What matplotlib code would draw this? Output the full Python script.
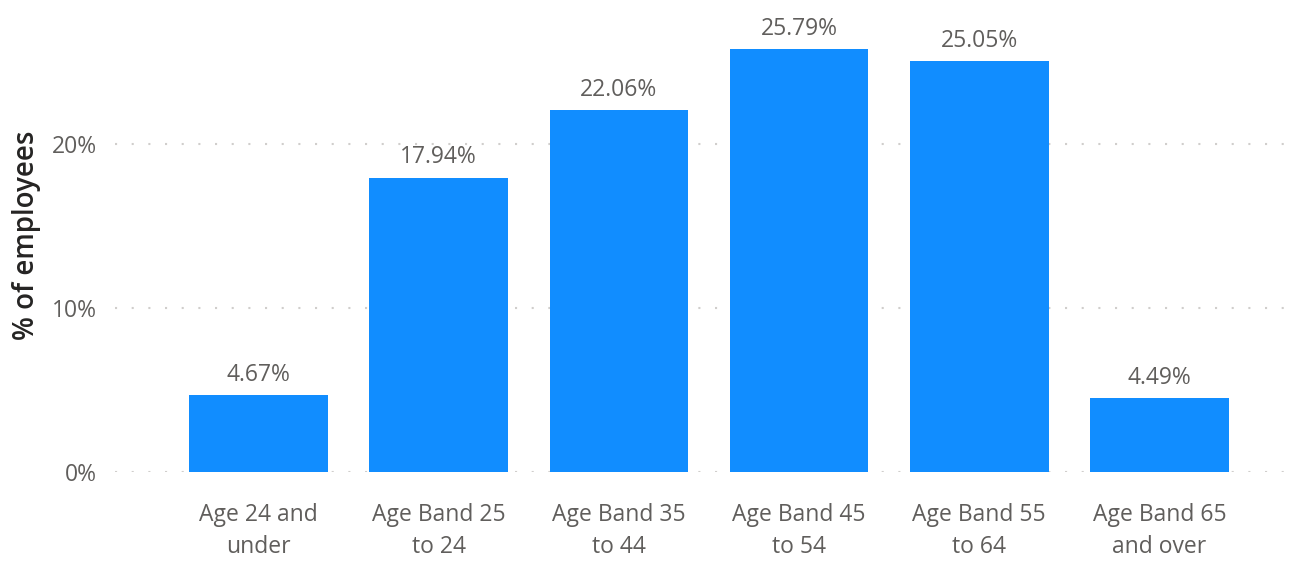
import matplotlib
matplotlib.use("Agg")
import matplotlib.pyplot as plt
from matplotlib.ticker import FuncFormatter

categories = ["Age 24 and\nunder", "Age Band 25\nto 24", "Age Band 35\nto 44",
              "Age Band 45\nto 54", "Age Band 55\nto 64", "Age Band 65\nand over"]
values = [4.67, 17.94, 22.06, 25.79, 25.05, 4.49]
yticks = [0, 10, 20]

plt.rcParams['font.family'] = ['Open Sans', 'DejaVu Sans']

W, H = 1302, 561
fig = plt.figure(figsize=(W / 100, H / 100), dpi=100)
left, right, bottom, top = 115, 1298, 472, 10
ax = fig.add_axes([left / W, 1 - bottom / H, (right - left) / W, (bottom - top) / H])

x = list(range(len(categories)))
bars = ax.bar(x, values, width=0.77, color="#118DFF", zorder=3)

ax.set_xlim((left - 258.5) / 180.2, (right - 258.5) / 180.2)
ax.set_ylim(0, (bottom - top) / 16.4)

for xi, v in zip(x, values):
    ax.annotate(f"{v:.2f}%", (xi, v), xytext=(0, 6), textcoords="offset points",
                ha="center", va="bottom", fontsize=16.5, color="#605E5C")

ax.set_yticks(yticks)
ax.yaxis.set_major_formatter(FuncFormatter(lambda v, p: f"{v:.0f}%"))
ax.set_xticks(x)
ax.set_xticklabels(categories, fontsize=16.5, color="#605E5C", linespacing=1.45)
ax.tick_params(axis="x", length=0, pad=22)
ax.tick_params(axis="y", length=0, pad=13, labelsize=16.5, labelcolor="#605E5C")

ax.grid(axis="y", color="#D0CECC", linestyle=(0, (1, 7)), linewidth=1.5, zorder=0)
for s in ax.spines.values():
    s.set_visible(False)

ax.set_ylabel("% of employees", fontsize=20, color="#252423", fontweight="semibold")
ax.yaxis.set_label_coords(-(left - 27) / (right - left), (bottom - 235) / (bottom - top))
ax.yaxis.label.set_va("center")

fig.savefig("out.png", dpi=100, facecolor="white")
